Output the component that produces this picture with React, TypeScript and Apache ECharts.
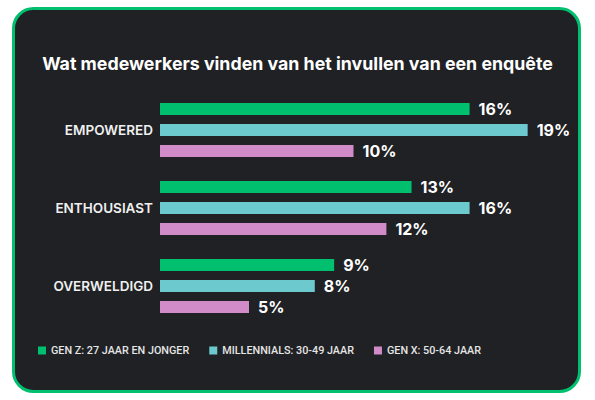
import { useEffect, useRef } from "react";
import * as echarts from "echarts";

const categories = ["EMPOWERED", "ENTHOUSIAST", "OVERWELDIGD"];
const seriesNames = ["GEN Z: 27 JAAR EN JONGER", "MILLENNIALS: 30-49 JAAR", "GEN X: 50-64 JAAR"];
// bar lengths (labels are rounded percentages)
const genZ = [16, 13, 9];
const millennials = [19, 16, 8];
const genX = [10, 11.7, 4.6];
const colors = ["#00bf6f", "#6ccacf", "#d18bc8"];

const FONT = "Inter, 'Noto Sans', sans-serif";

export default function App() {
  const ref = useRef<HTMLDivElement | null>(null);

  useEffect(() => {
    if (!ref.current) return;
    const chart = echarts.init(ref.current, undefined, { renderer: "svg" });
    const values = [genZ, millennials, genX];

    chart.setOption({
      animation: false,
      backgroundColor: "#ffffff",
      textStyle: { fontFamily: FONT },
      graphic: [
        {
          type: "rect",
          z: -10,
          silent: true,
          shape: { x: 13.5, y: 8.5, width: 566, height: 383, r: 20 },
          style: { fill: "#1f2124", stroke: "#00bf6f", lineWidth: 3 },
        },
      ],
      title: {
        text: "Wat medewerkers vinden van het invullen van een enquête",
        left: "center",
        top: 49,
        textStyle: { color: "#ffffff", fontSize: 17.8, fontWeight: 700, fontFamily: FONT },
      },
      legend: {
        left: 33,
        top: 340,
        icon: "rect",
        itemWidth: 8,
        itemHeight: 8,
        itemGap: 20,
        textStyle: { color: "#e6e6e6", fontSize: 10.8, fontWeight: 500, fontFamily: "Roboto, sans-serif" },
        data: seriesNames,
      },
      grid: { left: 160, right: 48, top: 91, bottom: 75 },
      xAxis: {
        type: "value",
        min: 0,
        max: 20,
        show: false,
      },
      yAxis: {
        type: "category",
        inverse: true,
        data: categories,
        axisLine: { show: false },
        axisTick: { show: false },
        axisLabel: { color: "#f0f0f0", fontSize: 13.5, fontWeight: 600, margin: 7, fontFamily: FONT },
      },
      series: seriesNames.map((name, i) => ({
        name,
        type: "bar",
        data: values[i],
        barWidth: 12,
        barGap: "75%",
        barCategoryGap: "31%",
        itemStyle: { color: colors[i] },
        label: {
          show: true,
          position: "right",
          distance: 9,
          formatter: (p: any) => Math.round(p.value) + "%",
          color: "#ffffff",
          fontSize: 16,
          fontWeight: 700,
          fontFamily: FONT,
        },
      })),
    });

    return () => chart.dispose();
  }, []);

  return (
    <div
      ref={ref}
      style={{ position: "fixed", left: 0, top: 0, width: 595, height: 400 }}
    />
  );
}
